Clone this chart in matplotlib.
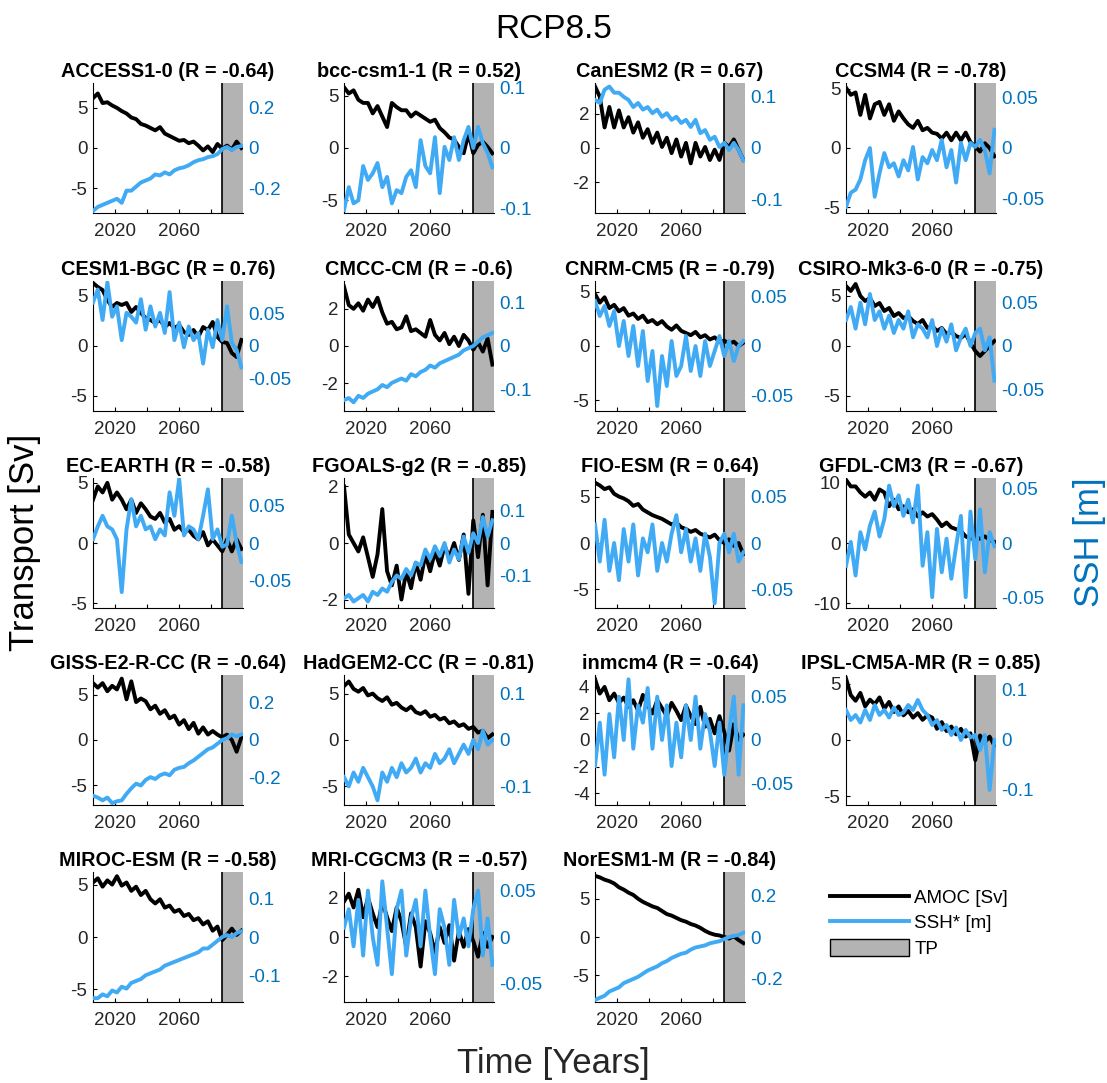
import numpy as np
import matplotlib.pyplot as plt
from matplotlib.lines import Line2D
from matplotlib.patches import Patch

plt.rcParams['font.family'] = ['Liberation Sans', 'DejaVu Sans']

# years sampled every 3 years
years = np.arange(2006, 2100, 3)
tp_start = 2087

models = ['ACCESS1-0', 'bcc-csm1-1', 'CanESM2', 'CCSM4',
          'CESM1-BGC', 'CMCC-CM', 'CNRM-CM5', 'CSIRO-Mk3-6-0',
          'EC-EARTH', 'FGOALS-g2', 'FIO-ESM', 'GFDL-CM3',
          'GISS-E2-R-CC', 'HadGEM2-CC', 'inmcm4', 'IPSL-CM5A-MR',
          'MIROC-ESM', 'MRI-CGCM3', 'NorESM1-M']
r_values = [-0.64, 0.52, 0.67, -0.78, 0.76, -0.6, -0.79, -0.75, -0.58, -0.85,
            0.64, -0.67, -0.64, -0.81, -0.64, 0.85, -0.58, -0.57, -0.84]

# symmetric axis limits (AMOC [Sv], SSH [m])
amoc_lim = [8.1, 6.2, 3.8, 5.5, 6.5, 3.5, 6.0, 6.5, 5.4, 2.3,
            7.0, 10.8, 7.2, 7.0, 4.9, 5.8, 6.2, 3.3, 8.5]
ssh_lim = [0.32, 0.108, 0.127, 0.064, 0.1, 0.15, 0.065, 0.075, 0.086, 0.2,
           0.07, 0.06, 0.35, 0.14, 0.075, 0.13, 0.17, 0.07, 0.31]
amoc_ticks = [[-5, 0, 5], [-5, 0, 5], [-2, 0, 2], [-5, 0, 5],
              [-5, 0, 5], [-2, 0, 2], [-5, 0, 5], [-5, 0, 5],
              [-5, 0, 5], [-2, 0, 2], [-5, 0, 5], [-10, 0, 10],
              [-5, 0, 5], [-5, 0, 5], [-4, -2, 0, 2, 4], [-5, 0, 5],
              [-5, 0, 5], [-2, 0, 2], [-5, 0, 5]]
ssh_ticks = [[-0.2, 0, 0.2], [-0.1, 0, 0.1], [-0.1, 0, 0.1], [-0.05, 0, 0.05],
             [-0.05, 0, 0.05], [-0.1, 0, 0.1], [-0.05, 0, 0.05], [-0.05, 0, 0.05],
             [-0.05, 0, 0.05], [-0.1, 0, 0.1], [-0.05, 0, 0.05], [-0.05, 0, 0.05],
             [-0.2, 0, 0.2], [-0.1, 0, 0.1], [-0.05, 0, 0.05], [-0.1, 0, 0.1],
             [-0.1, 0, 0.1], [-0.05, 0, 0.05], [-0.2, 0, 0.2]]

amoc_access = [6.2, 6.8, 5.6, 5.7, 5.3, 5.0, 4.6, 4.3, 3.8, 3.6, 3.0, 2.8, 2.5, 2.2, 2.6, 1.8,
               1.5, 1.2, 0.9, 1.0, 0.6, 0.8, 0.3, -0.3, 0.2, -0.5, 0.5, -0.1, 0.3, -0.2, 0.8, 0.0]
ssh_access = [-0.31, -0.29, -0.28, -0.27, -0.26, -0.25, -0.27, -0.21, -0.21, -0.19, -0.17, -0.16,
              -0.15, -0.13, -0.135, -0.12, -0.13, -0.11, -0.10, -0.095, -0.085, -0.07, -0.06,
              -0.055, -0.045, -0.04, -0.03, -0.005, 0.005, -0.01, 0.005, 0.01]
amoc_bcc = [5.8, 5.2, 5.5, 4.6, 4.3, 4.3, 3.3, 4.0, 3.0, 2.0, 4.3, 3.9, 3.6, 3.6, 3.0, 3.4,
            3.1, 2.8, 2.5, 2.7, 1.9, 1.5, 1.0, 0.8, 0.1, -0.5, 1.4, -0.5, 0.3, 0.6, 0.1, -0.5]
ssh_bcc = [-0.103, -0.065, -0.092, -0.087, -0.03, -0.053, -0.042, -0.025, -0.065, -0.048, -0.092,
           -0.07, -0.075, -0.048, -0.037, -0.065, 0.013, -0.03, -0.042, 0.018, -0.075, 0.002,
           -0.02, 0.018, -0.02, 0.013, 0.035, 0.0, 0.035, 0.008, -0.008, -0.032]
amoc_canesm = [3.6, 3.0, 1.2, 2.4, 1.2, 2.2, 1.2, 1.8, 0.9, 1.5, 0.6, 1.1, 0.3, 0.9, 0.06, 0.6,
               -0.3, 0.5, -0.5, 0.3, -0.9, 0.3, -0.5, 0.06, -0.7, -0.1, -0.7, 0.3, 0.06, 0.5, -0.1, -0.7]
ssh_canesm = [0.094, 0.088, 0.114, 0.12, 0.108, 0.108, 0.1, 0.094, 0.08, 0.088, 0.075, 0.08,
              0.068, 0.075, 0.061, 0.068, 0.055, 0.061, 0.049, 0.055, 0.041, 0.055, 0.029, 0.035,
              0.016, 0.022, 0.002, 0.01, -0.004, 0.01, -0.004, -0.024]
amoc_ccsm4 = [5.1, 4.5, 4.7, 2.8, 4.5, 2.5, 3.7, 3.9, 2.8, 3.7, 2.3, 3.1, 2.5, 2.0, 1.7, 2.3,
              1.5, 1.7, 1.3, 1.2, 0.8, 1.3, 0.65, 1.3, 0.65, 1.3, 0.5, 0.1, -0.3, 0.4, 0.0, -0.7]
ssh_ccsm4 = [-0.058, -0.044, -0.041, -0.031, -0.012, 0.0, -0.048, -0.025, -0.005, -0.019, -0.015,
             -0.028, -0.012, -0.022, 0.001, -0.031, -0.009, -0.015, -0.002, -0.012, 0.008, -0.019,
             -0.002, -0.034, 0.005, -0.012, 0.005, 0.001, 0.008, -0.002, -0.025, 0.018]
amoc_cesm = [6.3, 5.9, 5.6, 4.6, 3.9, 4.3, 4.1, 4.3, 3.4, 3.9, 3.3, 2.8, 2.6, 2.3, 2.6, 1.9,
             2.3, 1.8, 2.1, 1.4, 1.1, 1.6, 0.9, 1.9, 1.6, 2.4, 0.9, 0.4, 0.3, -0.7, -1.1, 0.6]
ssh_cesm = [0.067, 0.087, 0.04, 0.098, 0.045, 0.061, 0.009, 0.051, 0.045, 0.036, 0.072, 0.025,
            0.061, 0.03, 0.051, 0.02, 0.083, 0.009, 0.036, -0.002, 0.03, 0.009, 0.02, -0.027,
            0.025, -0.002, 0.04, 0.009, 0.061, 0.005, -0.006, -0.033]
amoc_cmcc = [3.2, 2.2, 2.0, 2.3, 1.9, 2.5, 2.1, 2.6, 1.8, 1.2, 1.3, 0.9, 1.0, 1.6, 0.8, 0.9,
             0.7, 0.5, 1.4, 0.6, 0.3, 0.7, 0.1, 0.5, 0.0, 0.6, 0.3, -0.2, 0.2, -0.3, 0.4, -1.0]
ssh_cmcc = [-0.125, -0.12, -0.13, -0.115, -0.12, -0.11, -0.105, -0.1, -0.09, -0.095, -0.085, -0.08,
            -0.075, -0.08, -0.065, -0.07, -0.06, -0.055, -0.045, -0.05, -0.04, -0.035, -0.03,
            -0.025, -0.02, -0.01, -0.005, 0.0, 0.01, 0.02, 0.025, 0.03]
amoc_cnrm = [4.8, 4.0, 4.5, 3.5, 3.8, 3.2, 3.5, 2.8, 3.0, 2.5, 2.8, 2.2, 2.4, 2.0, 2.3, 1.8,
             1.5, 1.9, 1.4, 1.2, 1.0, 1.3, 0.8, 1.0, 0.6, 0.8, 0.4, 0.5, 0.2, 0.4, 0.0, 0.3]
ssh_cnrm = [0.045, 0.03, 0.04, 0.02, 0.035, 0.0, 0.025, -0.01, 0.02, -0.02, 0.015, -0.035,
            -0.005, -0.06, -0.01, -0.04, 0.005, -0.03, -0.02, 0.01, -0.025, 0.0, -0.03, 0.005,
            -0.02, -0.005, 0.01, -0.01, 0.005, -0.015, 0.0, 0.005]
amoc_csiro = [6.0, 5.5, 6.2, 5.0, 4.5, 4.8, 4.0, 4.3, 3.5, 3.8, 3.0, 3.3, 2.8, 3.0, 2.5, 2.2,
              2.6, 1.8, 2.0, 1.5, 1.8, 1.2, 1.4, 1.0, 0.8, 1.2, 0.3, -0.5, -1.0, -0.5, 0.0, 0.5]
ssh_csiro = [0.03, 0.045, 0.02, 0.05, 0.025, 0.06, 0.03, 0.04, 0.02, 0.035, 0.015, 0.03, 0.02,
             0.04, 0.01, 0.025, 0.02, 0.01, 0.03, 0.0, 0.02, 0.005, 0.025, -0.005, 0.01, 0.02,
             0.0, 0.015, 0.02, -0.005, 0.01, -0.04]
amoc_ecearth = [3.6, 4.7, 4.2, 5.0, 3.6, 4.2, 3.6, 2.8, 3.6, 2.5, 3.3, 2.8, 2.2, 2.0, 2.5, 1.7,
                2.0, 1.1, 1.4, 0.9, 1.1, 0.6, 0.3, 0.9, -0.2, 0.3, -0.2, -0.7, 0.3, -0.7, 0.3, -0.5]
ssh_ecearth = [0.005, 0.022, 0.036, 0.022, 0.018, 0.005, -0.065, 0.018, 0.058, 0.022, 0.036, 0.018,
               0.022, 0.005, 0.018, 0.01, 0.067, 0.036, 0.085, 0.01, 0.022, 0.018, 0.005, 0.036,
               0.071, 0.005, 0.018, -0.005, -0.002, 0.036, 0.0, -0.025]
amoc_fgoals = [2.0, 0.3, 0.0, -0.3, 0.2, -0.5, -1.2, -0.4, 1.2, -1.0, -1.5, -0.8, -2.0, -1.0, -1.6,
               -0.7, -1.3, -0.4, -1.0, -0.3, -0.8, -0.1, -0.5, 0.0, -0.6, 0.3, -1.8, 0.8, -0.5, 1.0,
               -1.5, 1.1]
ssh_fgoals = [-0.17, -0.16, -0.18, -0.17, -0.16, -0.18, -0.15, -0.16, -0.14, -0.15, -0.12, -0.1,
              -0.11, -0.08, -0.1, -0.06, -0.07, -0.02, -0.05, -0.01, -0.04, 0.0, -0.06, -0.02,
              -0.05, 0.02, -0.03, 0.03, 0.0, 0.08, 0.02, 0.07]
amoc_fio = [6.5, 6.2, 5.8, 6.0, 5.3, 5.0, 4.8, 4.5, 4.0, 4.2, 3.6, 3.3, 3.0, 2.8, 2.6, 2.3,
            2.0, 2.2, 1.7, 1.5, 1.2, 1.4, 1.0, 0.8, 0.6, 0.9, 0.3, 0.0, 0.4, -0.3, 0.0, -1.2]
ssh_fio = [0.02, -0.02, 0.025, -0.03, 0.0, -0.04, 0.015, -0.02, 0.02, -0.035, 0.005, -0.01, 0.02,
           -0.03, 0.0, -0.02, 0.01, 0.03, -0.01, 0.015, -0.02, 0.005, -0.03, 0.01, -0.015, -0.065,
           0.0, 0.01, -0.01, 0.01, -0.02, -0.01]
amoc_gfdl = [10.5, 9.4, 9.4, 8.4, 7.7, 8.4, 7.2, 8.9, 8.4, 6.1, 7.2, 5.6, 6.1, 5.1, 5.6, 4.4,
             5.1, 4.4, 4.8, 3.9, 2.8, 3.4, 2.6, 2.3, 2.0, 1.1, 0.7, 1.1, 0.7, 1.1, 0.5, 0.2]
ssh_gfdl = [-0.021, 0.001, -0.03, 0.01, -0.006, 0.016, 0.029, 0.006, 0.022, 0.053, 0.034, 0.044,
            0.025, 0.04, 0.019, 0.053, -0.021, 0.01, -0.05, 0.013, -0.027, 0.004, -0.033, -0.003,
            0.025, -0.05, 0.029, -0.015, 0.031, -0.027, 0.01, -0.003]
amoc_giss = [6.3, 5.8, 6.3, 5.4, 6.0, 5.6, 6.8, 4.5, 6.5, 4.2, 4.6, 4.3, 3.4, 3.8, 2.9, 3.3,
             2.4, 2.7, 1.7, 2.2, 1.2, 1.9, 0.7, 1.4, 0.6, 1.0, 0.6, 0.3, 0.6, 0.0, -1.3, 0.3]
ssh_giss = [-0.30, -0.31, -0.325, -0.31, -0.34, -0.33, -0.325, -0.29, -0.26, -0.235, -0.245, -0.215,
            -0.2, -0.21, -0.19, -0.18, -0.19, -0.16, -0.15, -0.145, -0.125, -0.11, -0.09, -0.07,
            -0.05, -0.04, -0.02, 0.0, 0.01, 0.03, 0.02, 0.03]
amoc_hadgem = [5.8, 6.3, 5.5, 5.2, 5.6, 4.8, 5.0, 4.5, 4.2, 4.6, 3.8, 4.0, 3.5, 3.2, 3.6, 3.0,
               2.8, 3.1, 2.5, 2.7, 2.2, 2.4, 1.8, 2.0, 1.5, 1.7, 1.2, 1.4, 0.8, 1.0, 0.2, 0.6]
ssh_hadgem = [-0.08, -0.1, -0.07, -0.09, -0.06, -0.08, -0.1, -0.13, -0.07, -0.09, -0.06, -0.08,
              -0.05, -0.07, -0.06, -0.04, -0.07, -0.05, -0.06, -0.03, -0.05, -0.04, -0.02, -0.05,
              -0.03, -0.01, -0.03, 0.0, -0.02, 0.02, -0.01, 0.0]
amoc_inmcm = [4.6, 3.5, 4.0, 3.0, 3.5, 2.8, 3.2, 2.5, 3.0, 2.2, 3.4, 2.6, 2.0, 3.0, 2.4, 1.8,
              2.8, 2.2, 1.5, 2.6, 1.8, 1.2, 2.5, 1.0, 1.6, 0.5, 1.8, 0.6, -0.8, 1.2, 0.0, 0.4]
ssh_inmcm = [-0.03, 0.02, -0.04, 0.03, -0.02, 0.05, 0.0, 0.07, -0.01, 0.04, 0.02, 0.06, -0.01,
             0.05, 0.0, 0.04, -0.03, 0.02, -0.02, 0.04, 0.0, 0.05, -0.01, 0.03, 0.01, -0.03, 0.02,
             -0.04, 0.01, 0.05, -0.04, 0.04]
amoc_ipsl = [5.5, 4.0, 3.5, 4.2, 3.0, 3.6, 3.2, 3.8, 2.8, 3.4, 2.5, 3.0, 2.2, 2.6, 2.0, 2.4,
             1.8, 2.2, 2.0, 1.0, 1.6, 0.8, 1.2, 0.5, 1.0, 0.3, 0.6, -1.8, 0.4, -0.2, 0.3, -0.5]
ssh_ipsl = [0.06, 0.04, 0.05, 0.035, 0.06, 0.04, 0.07, 0.05, 0.06, 0.045, 0.065, 0.05, 0.055,
            0.07, 0.06, 0.08, 0.06, 0.05, 0.03, 0.04, 0.02, 0.03, 0.01, 0.025, 0.0, 0.02, 0.005,
            0.01, -0.02, 0.01, -0.1, 0.0]
amoc_miroc = [5.2, 5.6, 4.8, 5.4, 5.0, 5.8, 4.9, 5.2, 4.4, 4.8, 4.0, 4.4, 3.6, 3.2, 3.6, 2.8,
              3.0, 2.4, 2.6, 2.0, 2.2, 1.6, 1.8, 1.2, 1.5, 0.6, 1.0, -0.3, 0.2, 0.8, 0.2, 0.6]
ssh_miroc = [-0.16, -0.16, -0.15, -0.155, -0.14, -0.145, -0.13, -0.135, -0.12, -0.115, -0.11, -0.1,
             -0.095, -0.09, -0.085, -0.075, -0.07, -0.065, -0.06, -0.055, -0.05, -0.045, -0.04,
             -0.03, -0.03, -0.02, -0.01, 0.0, 0.005, 0.0, 0.01, 0.015]
amoc_mri = [1.8, 2.2, 1.5, 2.4, 1.0, 2.0, 1.2, 0.5, 1.8, 1.0, 0.3, 1.5, 0.8, -0.5, 1.2, 0.5,
            -1.5, 0.8, 0.2, -0.8, 0.5, -0.3, 0.6, -1.2, 0.3, -0.5, 0.4, -0.2, -1.0, 0.2, -0.5, 0.0]
ssh_mri = [0.01, 0.03, -0.01, 0.04, -0.02, 0.05, 0.0, -0.03, 0.06, 0.01, -0.04, 0.03, 0.05, -0.02,
           0.02, 0.04, -0.01, 0.05, 0.0, -0.04, 0.03, 0.01, -0.03, 0.04, 0.0, 0.02, -0.01, 0.03,
           0.05, -0.02, 0.02, -0.03]
amoc_noresm = [8.0, 7.8, 7.5, 7.3, 7.0, 6.5, 6.2, 5.8, 5.5, 5.0, 4.6, 4.3, 4.0, 3.8, 3.4, 3.0,
               2.8, 2.5, 2.2, 2.0, 1.7, 1.5, 1.2, 0.8, 0.5, 0.3, 0.2, 0.0, -0.2, 0.1, -0.4, -0.8]
ssh_noresm = [-0.3, -0.29, -0.28, -0.26, -0.25, -0.24, -0.22, -0.21, -0.2, -0.19, -0.175, -0.16,
              -0.15, -0.14, -0.125, -0.115, -0.1, -0.09, -0.08, -0.075, -0.06, -0.05, -0.045,
              -0.04, -0.03, -0.025, -0.02, -0.01, 0.0, 0.005, 0.01, 0.02]

amoc_all = [amoc_access, amoc_bcc, amoc_canesm, amoc_ccsm4, amoc_cesm, amoc_cmcc, amoc_cnrm,
            amoc_csiro, amoc_ecearth, amoc_fgoals, amoc_fio, amoc_gfdl, amoc_giss, amoc_hadgem,
            amoc_inmcm, amoc_ipsl, amoc_miroc, amoc_mri, amoc_noresm]
ssh_all = [ssh_access, ssh_bcc, ssh_canesm, ssh_ccsm4, ssh_cesm, ssh_cmcc, ssh_cnrm,
           ssh_csiro, ssh_ecearth, ssh_fgoals, ssh_fio, ssh_gfdl, ssh_giss, ssh_hadgem,
           ssh_inmcm, ssh_ipsl, ssh_miroc, ssh_mri, ssh_noresm]

W, H = 1107, 1083
fig = plt.figure(figsize=(W / 100, H / 100), dpi=100)

col_left = [93, 344, 595, 846]
row_top = [83, 281, 478, 675, 872]
aw, ah = 150, 130
ssh_col = '#40aaf5'
axis_blue = '#0072bd'
txt = '#262626'

for i, name in enumerate(models):
    r, c = divmod(i, 4)
    ax = fig.add_axes([col_left[c] / W, 1 - (row_top[r] + ah) / H, aw / W, ah / H])
    ax.axvspan(tp_start, 2100, facecolor='#b3b3b3', edgecolor='none', zorder=0)
    ax.axvline(tp_start, color='k', lw=1.2, zorder=1)
    ax.plot(years, amoc_all[i], color='k', lw=2.8, zorder=2)
    ax.set_xlim(2006, 2100)
    ax.set_ylim(-amoc_lim[i], amoc_lim[i])
    ax.set_xticks([2020, 2040, 2060, 2080])
    ax.set_xticklabels(['2020', '', '2060', ''])
    ax.set_yticks(amoc_ticks[i])
    ax.set_yticklabels([f'{v:g}' for v in amoc_ticks[i]])
    ax.tick_params(axis='x', direction='in', length=3, pad=7, labelsize=13.5, labelcolor=txt)
    ax.tick_params(axis='y', direction='in', length=3, pad=4, labelsize=13.5, labelcolor=txt)
    ax.spines['top'].set_visible(False)
    ax.spines['right'].set_visible(False)
    ax.set_title(f'{name} (R = {r_values[i]:g})', fontweight='bold', fontsize=14.3, pad=4)

    ax2 = ax.twinx()
    ax2.plot(years, ssh_all[i], color=ssh_col, lw=2.8)
    ax2.set_ylim(-ssh_lim[i], ssh_lim[i])
    ax2.set_yticks(ssh_ticks[i])
    ax2.set_yticklabels([f'{v:g}' for v in ssh_ticks[i]])
    ax2.tick_params(axis='y', length=0, pad=4, labelsize=13.5, labelcolor=axis_blue)
    for s in ax2.spines.values():
        s.set_visible(False)

fig.text(0.5, 1 - 30 / H, 'RCP8.5', ha='center', va='center', fontsize=24)
fig.text(0.5, 1 - 1063 / H, 'Time [Years]', ha='center', va='center', fontsize=25, color=txt)
fig.text(25 / W, 1 - 542 / H, 'Transport [Sv]', ha='center', va='center', rotation=90,
         fontsize=25, color='k')
fig.text(1090 / W, 1 - 542 / H, 'SSH [m]', ha='center', va='center', rotation=90,
         fontsize=25, color=axis_blue)

handles = [Line2D([], [], color='k', lw=2.8),
           Line2D([], [], color=ssh_col, lw=2.8),
           Patch(facecolor='#b3b3b3', edgecolor='k')]
fig.legend(handles, ['AMOC [Sv]', 'SSH* [m]', 'TP'], loc='center left',
           bbox_to_anchor=(830 / W, 1 - 923 / H), frameon=False, fontsize=13.5,
           handlelength=4.2, handleheight=1.0, handletextpad=0.3, labelspacing=0.35,
           borderpad=0, borderaxespad=0)

fig.savefig('out.png', dpi=100)
